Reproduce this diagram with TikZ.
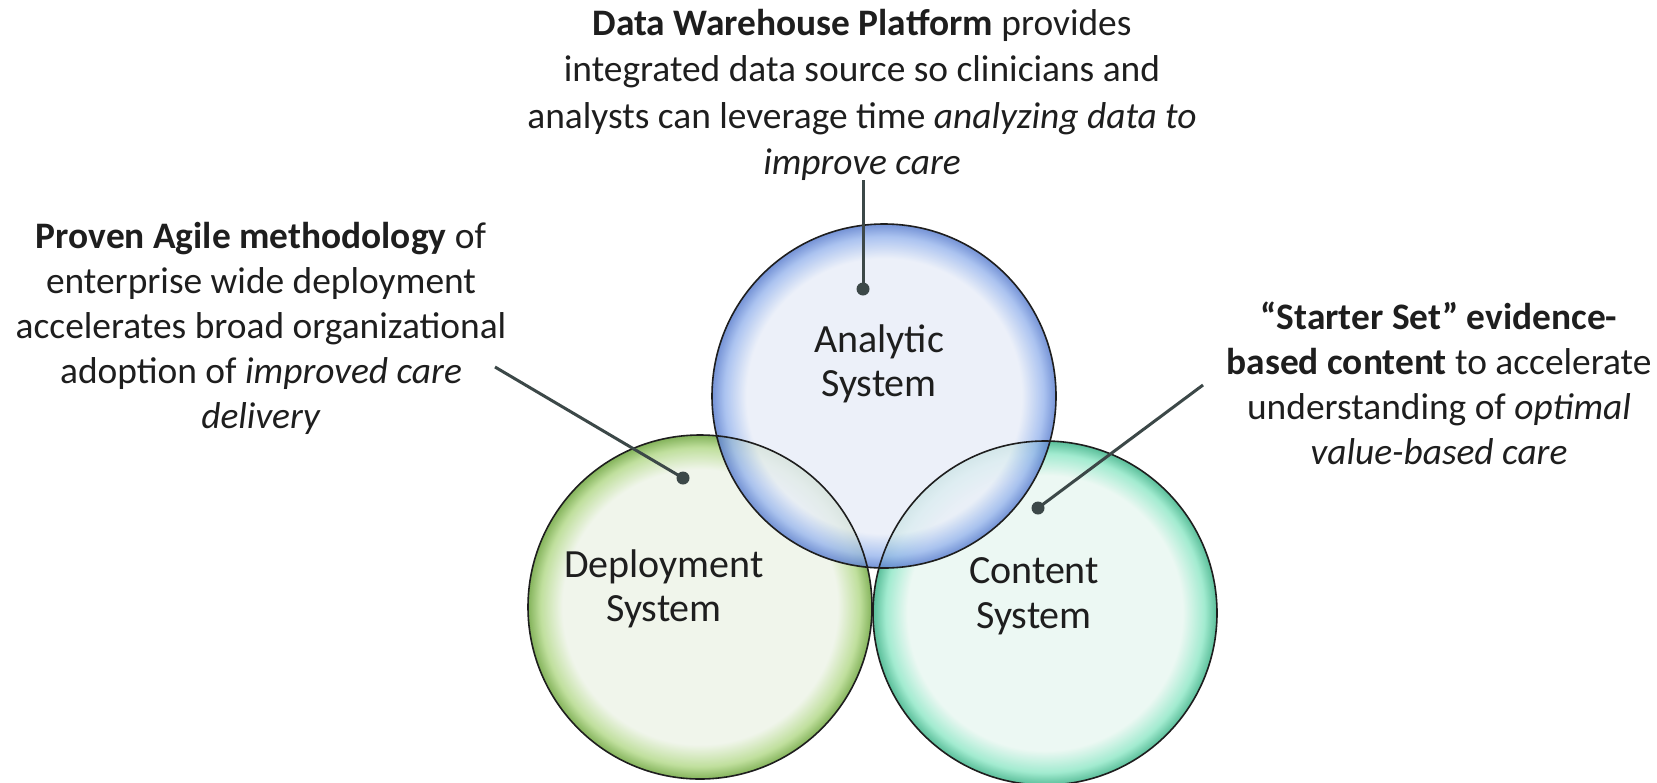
\documentclass[tikz,border=0pt]{standalone}
\usepackage{fontspec}
\setmainfont{Carlito}
\definecolor{aIn}{HTML}{E9EEF8}
\definecolor{aMid}{HTML}{9DB9EE}
\definecolor{aOut}{HTML}{5D80CF}
\definecolor{dIn}{HTML}{EEF4E8}
\definecolor{dMid}{HTML}{B5DA8C}
\definecolor{dOut}{HTML}{6EA63E}
\definecolor{cIn}{HTML}{E9F7F1}
\definecolor{cMid}{HTML}{92E8C8}
\definecolor{cOut}{HTML}{3DB388}
\definecolor{connC}{HTML}{3C4848}
\definecolor{txt}{HTML}{1E1E1E}
\pgfdeclareradialshading{ballA}{\pgfpoint{0bp}{0bp}}{color(0bp)=(aIn); color(20bp)=(aIn); color(23.2bp)=(aMid); color(25bp)=(aOut); color(50bp)=(aOut)}
\pgfdeclareradialshading{ballD}{\pgfpoint{0bp}{0bp}}{color(0bp)=(dIn); color(20bp)=(dIn); color(23.2bp)=(dMid); color(25bp)=(dOut); color(50bp)=(dOut)}
\pgfdeclareradialshading{ballC}{\pgfpoint{0bp}{0bp}}{color(0bp)=(cIn); color(20bp)=(cIn); color(23.2bp)=(cMid); color(25bp)=(cOut); color(50bp)=(cOut)}
\begin{document}
\begin{tikzpicture}[x=1pt,y=-1pt,
  bubble/.style={circle, minimum size=344pt, inner sep=0pt, fill opacity=0.85},
  ring/.style={draw=txt, line width=1.6pt},
  desc/.style={align=center, font=\fontsize{37.4}{45}\selectfont, text=txt, inner sep=0pt},
  lbl/.style={align=center, font=\fontsize{40}{44.5}\selectfont, text=txt, inner sep=0pt},
  conn/.style={draw=connC, line width=3pt},
  dotpt/.style={circle, fill=connC, inner sep=0pt, minimum size=13pt}]
\useasboundingbox[fill=white] (0,0) rectangle (1657,782);
% bubbles
\node[bubble, shade, shading=ballD] (D) at (700,607) {};
\node[bubble, shade, shading=ballC] (C) at (1045,613) {};
\node[bubble, shade, shading=ballA] (A) at (884,396) {};
\draw[ring] (D.center) circle (172pt);
\draw[ring] (C.center) circle (172pt);
\draw[ring] (A.center) circle (172pt);
% labels
\node[lbl] (la) at (879,364) {Analytic\\System};
\node[lbl] (ld) at (664,589) {Deployment\\System};
\node[lbl] (lc) at (1034,596) {Content\\System};
% descriptions
\node[desc, font=\fontsize{37.4}{46.5}\selectfont] (ta) at (862,95) {\textbf{Data Warehouse Platform} provides\\integrated data source so clinicians and\\analysts can leverage time \textit{analyzing data to}\\\textit{improve care}};
\node[desc] (td) at (261,328) {\textbf{Proven Agile methodology} of\\enterprise wide deployment\\accelerates broad organizational\\adoption of \textit{improved care}\\\textit{delivery}};
\node[desc] (tc) at (1439,383) {\textbf{“Starter Set” evidence-}\\\textbf{based content} to accelerate\\understanding of \textit{optimal}\\\textit{value-based care}};
% connectors
\coordinate (ea) at (863,180);
\coordinate (ed) at (495,367);
\coordinate (ec) at (1203,385);
\node[dotpt] (pa) at (863,289) {};
\node[dotpt] (pd) at (683,478) {};
\node[dotpt] (pc) at (1038,508) {};
\draw[conn] (ea) -- (pa.center);
\draw[conn] (ed) -- (pd.center);
\draw[conn] (ec) -- (pc.center);
\end{tikzpicture}
\end{document}
